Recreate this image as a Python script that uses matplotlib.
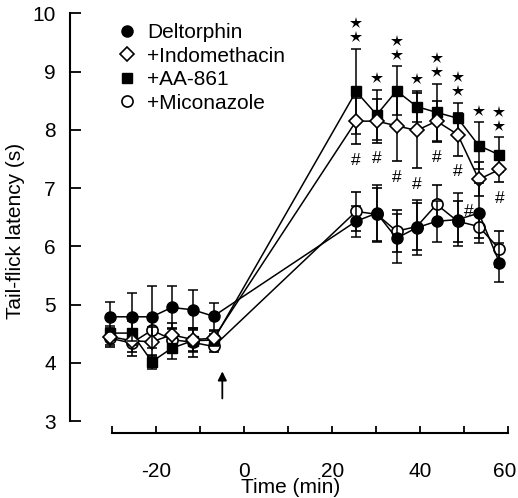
import matplotlib
matplotlib.use("Agg")
import matplotlib.pyplot as plt
import matplotlib.transforms as mtransforms
from matplotlib.lines import Line2D

plt.rcParams['font.family'] = ['Liberation Sans', 'DejaVu Sans']

# ---- data ----
time = [-30.5, -25.6, -21.0, -16.5, -11.7, -7.0,
        25.4, 30.1, 34.6, 39.2, 43.7, 48.5, 53.3, 58.0]

delt_mean = [4.79, 4.79, 4.79, 4.95, 4.91, 4.80,
             6.43, 6.57, 6.14, 6.32, 6.43, 6.46, 6.57, 5.72]
delt_err = [0.26, 0.41, 0.53, 0.37, 0.34, 0.23,
            0.27, 0.49, 0.42, 0.47, 0.35, 0.45, 0.52, 0.33]

indo_mean = [4.45, 4.38, 4.36, 4.48, 4.40, 4.42,
             8.15, 8.15, 8.07, 7.99, 8.15, 7.92, 7.15, 7.32]
indo_err = [0.15, 0.20, 0.25, 0.20, 0.20, 0.12,
            0.40, 0.38, 0.61, 0.65, 0.35, 0.37, 0.29, 0.22]

aa_mean = [4.51, 4.51, 4.02, 4.25, 4.38, 4.39,
           8.66, 8.26, 8.67, 8.40, 8.30, 8.20, 7.73, 7.57]
aa_err = [0.12, 0.20, 0.12, 0.18, 0.20, 0.10,
          0.73, 0.43, 0.42, 0.27, 0.49, 0.26, 0.40, 0.30]

mico_mean = [4.42, 4.34, 4.56, 4.40, 4.35, 4.28,
             6.60, 6.55, 6.26, 6.34, 6.72, 6.43, 6.34, 5.95]
mico_err = [0.15, 0.22, 0.20, 0.20, 0.25, 0.10,
            0.33, 0.45, 0.36, 0.40, 0.34, 0.35, 0.20, 0.31]

# significance marks for post-injection points (indices 6..13)
n_stars = [2, 1, 2, 1, 2, 2, 1, 2]
arrow_time = -5

labels = ['Deltorphin', '+Indomethacin', '+AA-861', '+Miconazole']
x_ticks = [-30, -20, -10, 0, 10, 20, 30, 40, 50, 60]
x_ticklabels = ['', '-20', '', '0', '', '20', '', '40', '', '60']
y_ticks = [3, 4, 5, 6, 7, 8, 9, 10]

FS = 15

# ---- figure ----
fig = plt.figure(figsize=(5.18, 4.98), dpi=100)
ax = fig.add_axes([0.1342, 0.1299, 0.8542, 0.849])

series = [
    (delt_mean, delt_err, dict(marker='o', mfc='black', mec='black', ms=8)),
    (indo_mean, indo_err, dict(marker='D', mfc='white', mec='black', ms=7.5, mew=1.2)),
    (aa_mean, aa_err, dict(marker='s', mfc='black', mec='black', ms=7.5)),
    (mico_mean, mico_err, dict(marker='o', mfc='white', mec='black', ms=8, mew=1.2)),
]

z = 3
for mean, err, st in reversed(series):
    ax.errorbar(time, mean, yerr=err, color='black', lw=1.1, elinewidth=1.1,
                capsize=3.5, capthick=1.1, zorder=z, **st)
    z += 1

# stars above AA-861 upper error, hashes below Indomethacin lower error
for k in range(8):
    i = 6 + k
    top = aa_mean[i] + aa_err[i]
    for s in range(n_stars[k]):
        ax.plot(time[i], top + 0.2 + 0.24 * s, marker='*', color='black',
                ms=9, mew=0, zorder=10)
    low = indo_mean[i] - indo_err[i]
    dx = -2.3 if k == 6 else 0
    ax.text(time[i] + dx, low - 0.27, '#', ha='center', va='center',
            fontsize=12.5, zorder=10)

ax.annotate('', xy=(arrow_time, 3.90), xytext=(arrow_time, 3.34),
            arrowprops=dict(arrowstyle='-|>', color='black', lw=1.3,
                            mutation_scale=13))

ax.set_xlim(-39.73, 60.84)
ax.set_ylim(2.789, 10.05)
for sp in ['top', 'right']:
    ax.spines[sp].set_visible(False)
ax.spines['left'].set_bounds(3, 10)
ax.spines['bottom'].set_bounds(-30, 60)
ax.spines['left'].set_linewidth(1.5)
ax.spines['bottom'].set_linewidth(1.5)

ax.set_xticks(x_ticks)
ax.set_xticklabels(x_ticklabels)
ax.set_yticks(y_ticks)
ax.tick_params(axis='x', direction='in', length=5, width=1.3, pad=21, labelsize=FS)
ax.tick_params(axis='y', direction='in', length=8, width=1.3, pad=10, labelsize=FS)

# nudge the last x tick label left so it stays inside the image
last = ax.get_xticklabels()[-1]
last.set_transform(last.get_transform() +
                   mtransforms.ScaledTranslation(-4 / 100, 0, fig.dpi_scale_trans))

ax.set_xlabel('Time (min)', fontsize=FS)
ax.xaxis.set_label_coords(0.5006, -0.106)
fig.text(15.5 / 518, 1 - 231 / 498, 'Tail-flick latency (s)', rotation=90,
         ha='center', va='center', fontsize=FS)

handles = [Line2D([], [], linestyle='none', **st) for _, _, st in series]
ax.legend(handles, labels, loc='upper left', frameon=False, fontsize=FS,
          bbox_to_anchor=(116.6 / 518, 1 - 23 / 498), bbox_transform=fig.transFigure,
          handlelength=1.0, handletextpad=0.46, labelspacing=0.22,
          borderpad=0, borderaxespad=0, numpoints=1)

fig.savefig('out.png', dpi=100)
